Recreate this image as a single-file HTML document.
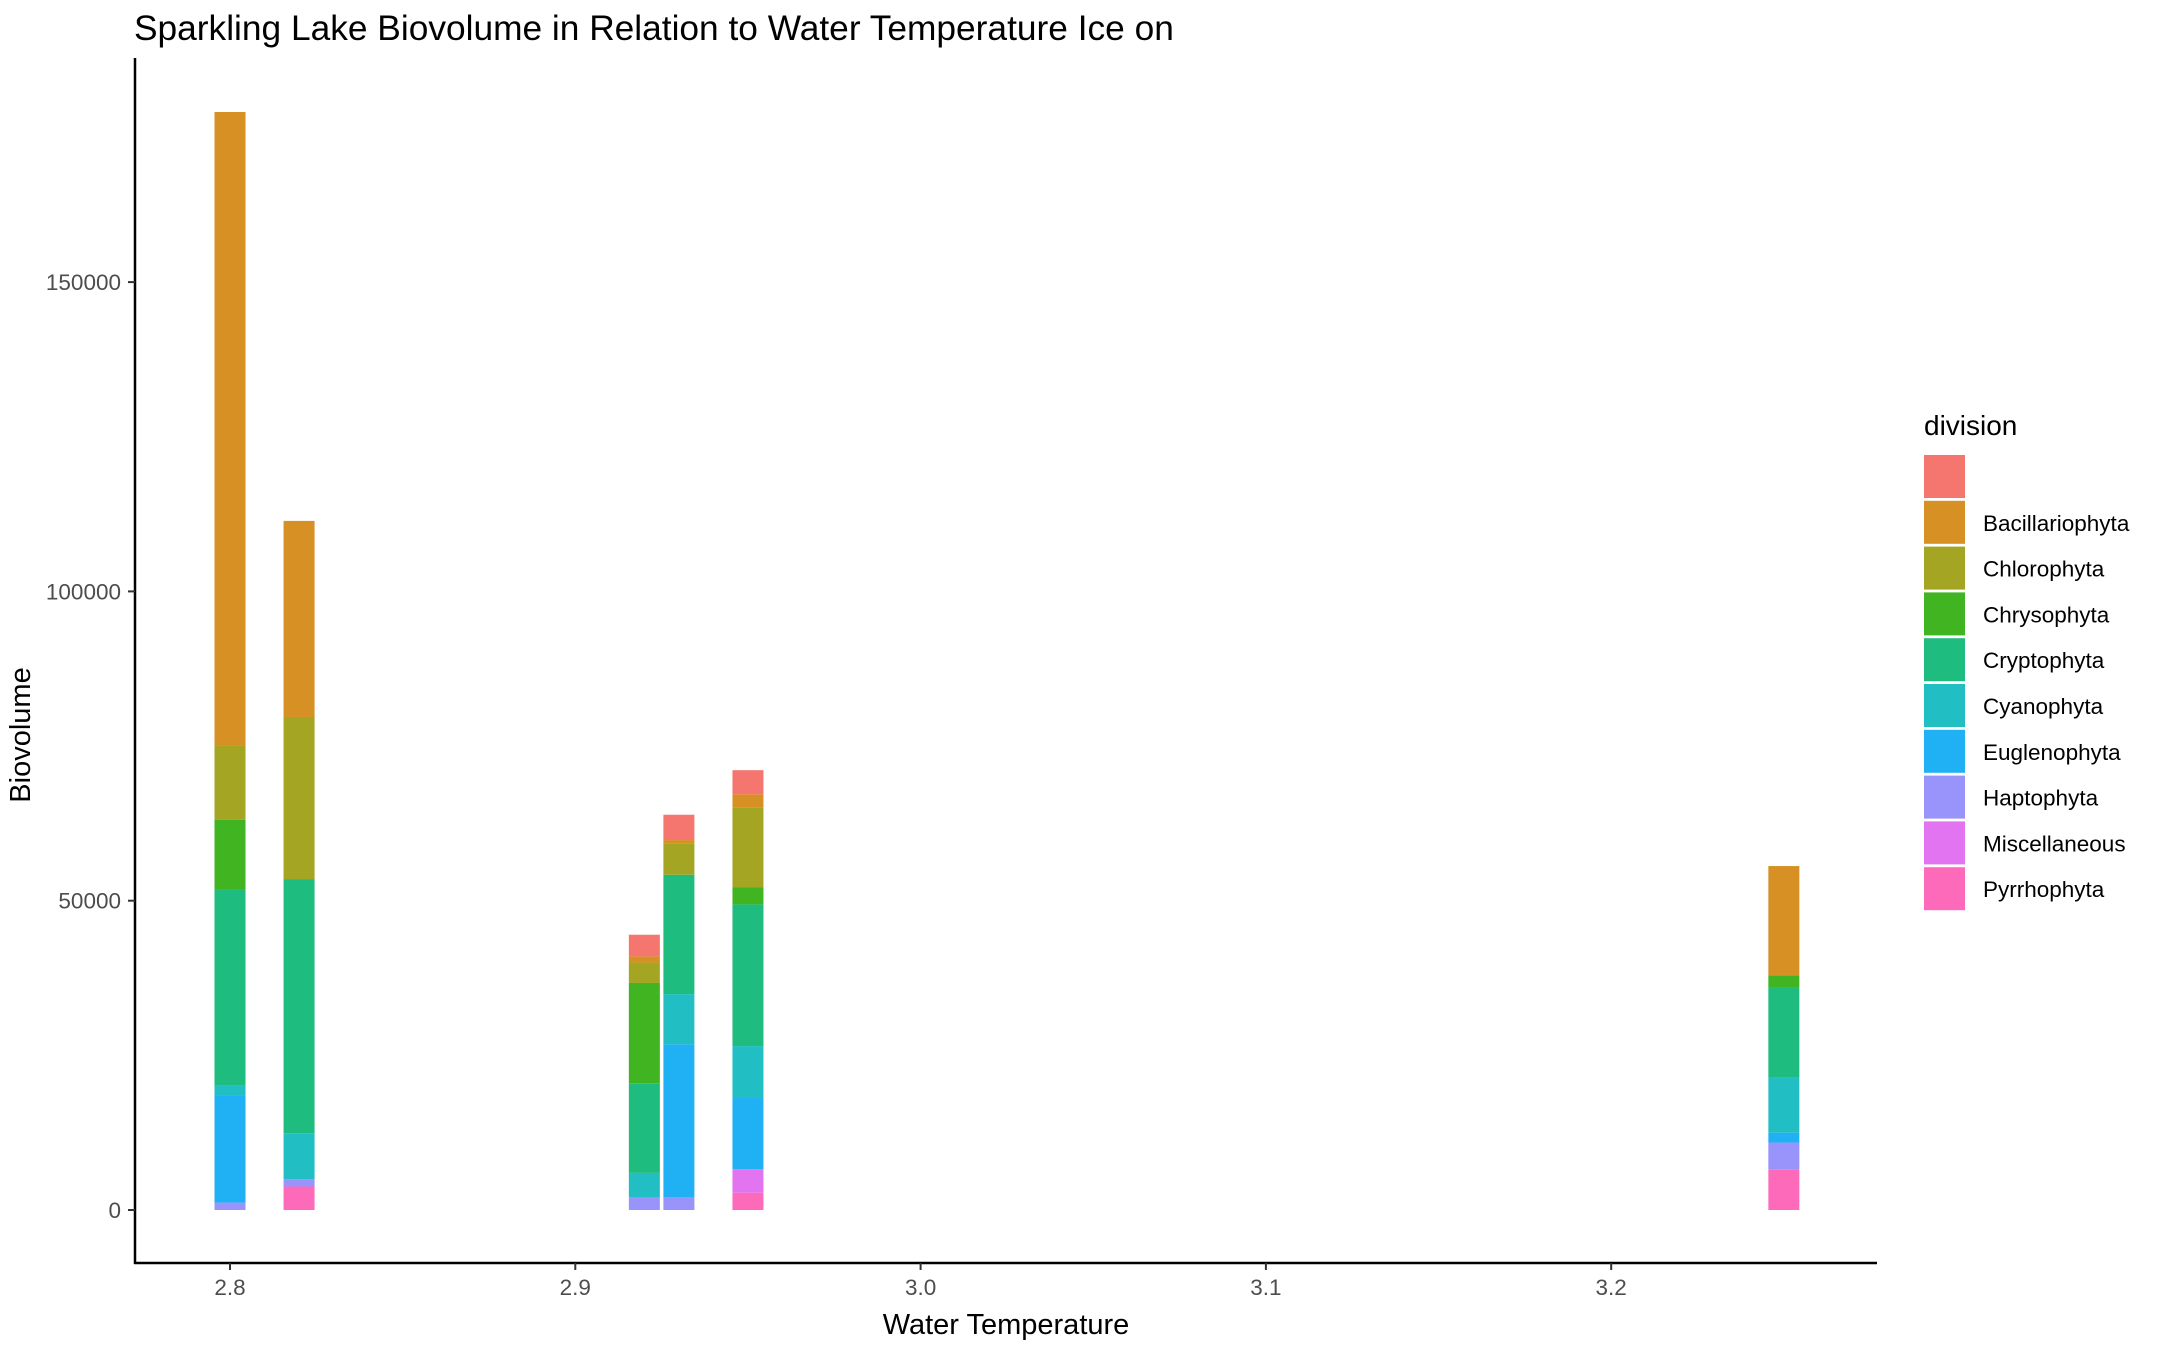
<!DOCTYPE html>
<html><head><meta charset="utf-8"><style>
body{margin:0;background:#fff;}
svg{display:block;font-family:"Liberation Sans",Arial,sans-serif;}
</style></head><body>
<svg id="chart" width="2158" height="1346" viewBox="0 0 2158 1346" xmlns="http://www.w3.org/2000/svg">
<rect width="2158" height="1346" fill="#fff"/>
<text x="134" y="40" font-size="35.3" fill="#000">Sparkling Lake Biovolume in Relation to Water Temperature Ice on</text>
<g id="bars"></g>
<g id="axes"></g>
<g id="legend"></g>
<text x="0" y="0" transform="translate(30,735) rotate(-90)" text-anchor="middle" font-size="29" fill="#000">Biovolume</text>
<text x="1006" y="1334" text-anchor="middle" font-size="29" fill="#000">Water Temperature</text>
</svg>
<script>
const divisions = ["", "Bacillariophyta","Chlorophyta","Chrysophyta","Cryptophyta","Cyanophyta","Euglenophyta","Haptophyta","Miscellaneous","Pyrrhophyta"];
const colors = ["#F5766F","#D69023","#A3A523","#41B422","#1FBC7F","#21BFC4","#20B1F5","#9993FC","#E274F1","#FD6AB9"];
const temps = [2.80, 2.82, 2.92, 2.93, 2.95, 3.25];
// values per division (order as divisions) for each temperature
const v280 = [0, 102400, 12000, 11300, 31600, 1700, 17300, 1200, 0, 0];
const v282 = [0, 31700, 26200, 0, 41100, 7400, 0, 1200, 0, 3800];
const v292 = [3500, 1000, 3300, 16200, 14500, 3900, 0, 2100, 0, 0];
const v293 = [4100, 500, 5100, 0, 19300, 8100, 24700, 2100, 0, 0];
const v295 = [3900, 2100, 12900, 2800, 22900, 8400, 11500, 0, 3800, 2800];
const v325 = [0, 17700, 0, 2000, 14500, 8900, 1600, 4400, 0, 6500];
const series = [v280, v282, v292, v293, v295, v325];
const xTicks = [2.8, 2.9, 3.0, 3.1, 3.2];
const yTicks = [0, 50000, 100000, 150000];

const NS = "http://www.w3.org/2000/svg";
const x = t => 230 + (t - 2.8) * 3453;
const y = v => 1210 - v * 0.006186;
const barW = 31;
function mk(tag, attrs, parent){const e=document.createElementNS(NS,tag);for(const k in attrs)e.setAttribute(k,attrs[k]);parent.appendChild(e);return e;}

const gb = document.getElementById('bars');
temps.forEach((t, i) => {
  let cum = 0;
  for (let d = divisions.length - 1; d >= 0; d--) {
    const val = series[i][d];
    if (!val) continue;
    const r = mk('rect', {x: x(t) - barW/2, y: y(cum + val), width: barW, height: y(cum) - y(cum + val), fill: colors[d]}, gb);
    
    
    cum += val;
  }
});

const ga = document.getElementById('axes');
let l = mk('line', {x1:135, y1:58, x2:135, y2:1264, stroke:'#000', 'stroke-width':2.5}, ga);


l = mk('line', {x1:134, y1:1263, x2:1877, y2:1263, stroke:'#000', 'stroke-width':2.5}, ga);


yTicks.forEach(v => {
  const tk = mk('line', {x1:128, y1:y(v), x2:135, y2:y(v), stroke:'#333', 'stroke-width':2}, ga);
  
  
  const tx = mk('text', {x:121, y:y(v) + 8, 'text-anchor':'end', 'font-size':22.5, fill:'#4d4d4d'}, ga);
  tx.textContent = String(v);
  
  
});
xTicks.forEach(t => {
  const tk = mk('line', {x1:x(t), y1:1263, x2:x(t), y2:1270, stroke:'#333', 'stroke-width':2}, ga);
  
  
  const tx = mk('text', {x:x(t), y:1295, 'text-anchor':'middle', 'font-size':22.5, fill:'#4d4d4d'}, ga);
  tx.textContent = t.toFixed(1);
  
  
});

const gl = document.getElementById('legend');
const lt = mk('text', {x:1924, y:435, 'font-size':28, fill:'#000'}, gl);
lt.textContent = 'division';


divisions.forEach((d, i) => {
  const ky = 455 + i * 45.8;
  const k = mk('rect', {x:1924, y:ky, width:41, height:43, fill:colors[i]}, gl);
  
  
  const tx = mk('text', {x:1983, y:ky + 30, 'font-size':22.5, fill:'#000'}, gl);
  tx.textContent = d;
  
  
});
</script>
</body></html>
